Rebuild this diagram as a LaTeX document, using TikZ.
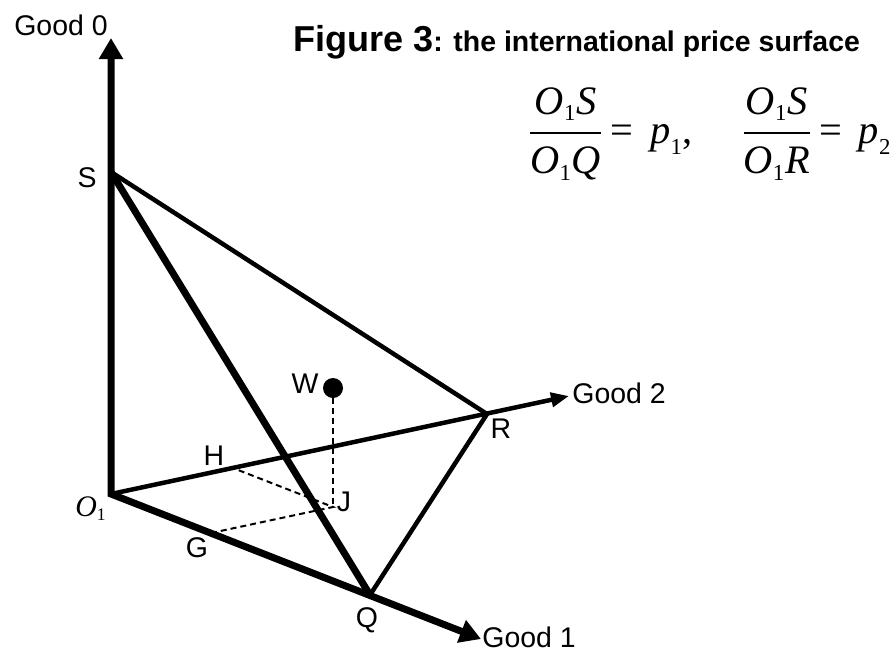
\documentclass[tikz,border=0pt]{standalone}
\usepackage{amsmath}
\usepackage{fontspec}
\setmainfont{Liberation Sans}
\newfontfamily\timesfont{Liberation Serif}
\usetikzlibrary{arrows.meta}
\newcommand{\mvar}[1]{\text{\timesfont\itshape #1}}
\newcommand{\mnum}[1]{\text{\timesfont #1}}
\newcommand{\msub}[2][13]{_{\text{\fontsize{#1}{#1}\selectfont\timesfont #2}}}

\begin{document}
\begin{tikzpicture}[
    x=0.02cm, y=-0.02cm,
    font=\fontsize{16.2}{19}\selectfont,
    bigTip/.tip={Triangle[length=0.42cm,width=0.46cm]},
    smallTip/.tip={Triangle[length=0.36cm,width=0.28cm]},
    axisMain/.style={line width=0.14cm, bigTip-bigTip, line join=miter},
    axisSide/.style={line width=0.09cm, -smallTip},
    edgeHeavy/.style={line width=0.14cm},
    edgeLight/.style={line width=0.09cm, line join=miter},
    proj/.style={line width=0.04cm, dash pattern=on 0.12cm off 0.08cm},
    point/.style={circle, fill, inner sep=0, minimum size=0.4cm},
    lbl/.style={inner sep=0, anchor=base}
]
\useasboundingbox (0,0) rectangle (892,653);

% origin, axis tips and points of the price surface
\coordinate (O) at (111,494);
\coordinate (T0) at (111,38);
\coordinate (T1) at (481,639);
\coordinate (T2) at (569,396);
\coordinate (S) at (111,172);
\coordinate (Q) at (370,595);
\coordinate (R) at (487,414);
\coordinate (G) at (211,533);
\coordinate (H) at (233,468);
\coordinate (J) at (333,507);
\node[point] (W) at (333,388) {};

\draw[axisMain] (T1) -- (O) -- (T0);
\draw[axisSide] (O) -- (T2);
\draw[edgeHeavy] (S) -- (Q);
\draw[edgeLight] (Q) -- (R) -- (S);
\draw[proj] (G) -- (J) -- (H);
\draw[proj] (W) -- (J);

\node[lbl] (lblGood0) at (61,35) {Good 0};
\node[lbl, anchor=base west] (lblGood1) at (482,647) {Good 1};
\node[lbl, anchor=base west] (lblGood2) at (572,403) {Good 2};
\node[lbl] (lblS) at (87,187) {S};
\node[lbl] (lblW) at (305,393) {W};
\node[lbl] (lblH) at (214,465) {H};
\node[lbl] (lblJ) at (344,511) {J};
\node[lbl] (lblG) at (197,557) {G};
\node[lbl] (lblQ) at (367,627) {Q};
\node[lbl] (lblR) at (501,438) {R};
\node[lbl, anchor=base west, font=\fontsize{17}{20}\selectfont] (lblO) at (75,516)
  {$\mvar{O}\msub[10]{1}$};

\node[anchor=base west, inner sep=0] (title) at (293,51)
  {{\fontsize{20.5}{24}\selectfont\bfseries Figure 3}{\bfseries: the international price surface}};
\node[anchor=west, inner sep=0, font=\fontsize{23}{27}\selectfont] (ratio) at (528,134)
  {$\dfrac{\mvar{O}\msub{1}\mvar{S}}{\mvar{O}\msub{1}\mvar{Q}}\mkern3mu\mnum{=}\mkern7mu\mvar{p}\msub{1}\mnum{,}\mkern20mu
    \dfrac{\mvar{O}\msub{1}\mvar{S}}{\mvar{O}\msub{1}\mvar{R}}\mkern3mu\mnum{=}\mkern7mu\mvar{p}\msub{2}$};

\end{tikzpicture}
\end{document}
